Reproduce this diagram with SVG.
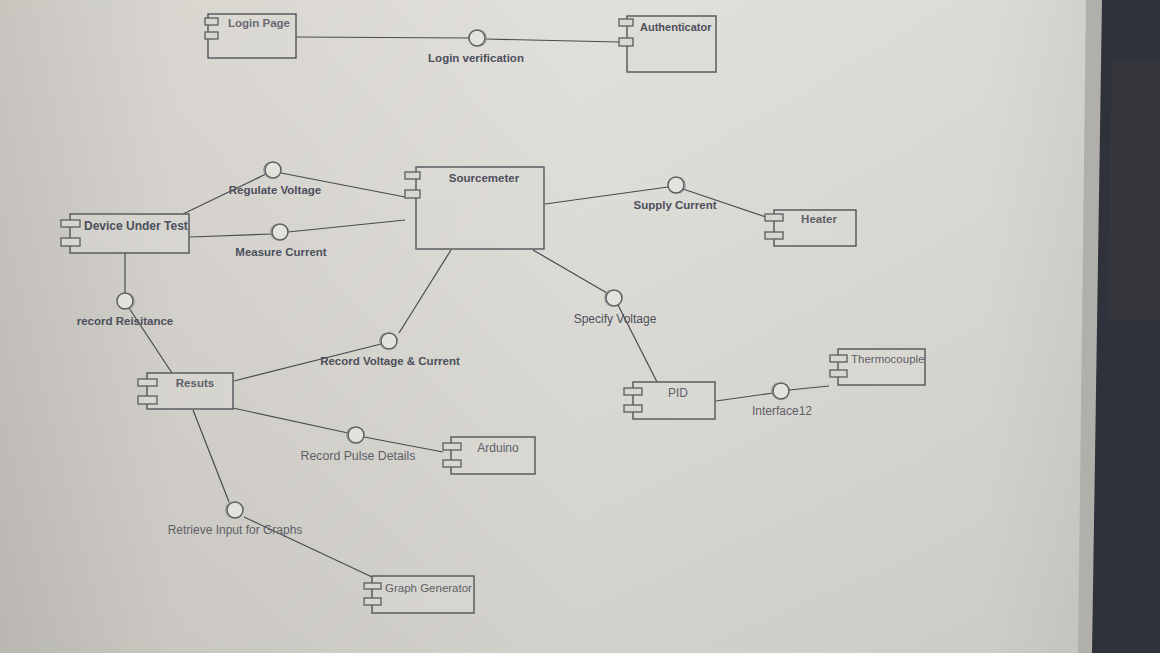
<svg xmlns="http://www.w3.org/2000/svg" width="1160" height="653" viewBox="0 0 1160 653">
<defs>
<linearGradient id="bg" x1="0" y1="0" x2="1" y2="0">
<stop offset="0" stop-color="#c4c2bb"/>
<stop offset="0.15" stop-color="#d6d4cd"/>
<stop offset="0.5" stop-color="#e0ded8"/>
<stop offset="0.85" stop-color="#dbd9d3"/>
<stop offset="1" stop-color="#c9c7c1"/>
</linearGradient>
<linearGradient id="bgv" x1="0" y1="0" x2="0" y2="1">
<stop offset="0" stop-color="#ffffff" stop-opacity="0.05"/>
<stop offset="1" stop-color="#000000" stop-opacity="0.06"/>
</linearGradient>
<style>
.box{fill:#dcdad4;fill-opacity:0.5;stroke:#5b5b60;stroke-width:1.5}
.tab{fill:#d8d6d0;stroke:#5b5b60;stroke-width:1.3}
.ln{stroke:#4a4a50;stroke-width:1.2;fill:none}
.ball{fill:#e4e2dc;stroke:#5b5b60;stroke-width:1.5}
.ball2{fill:none;stroke:#8a8a90;stroke-width:1}
.t{font-family:"Liberation Sans",Arial,sans-serif;font-size:12px;fill:#4c4f5c}
.b{font-weight:bold;font-size:11.5px}
.g{fill:#5e6068}
</style>
</defs>
<rect width="1160" height="653" fill="url(#bg)"/>
<rect width="1160" height="653" fill="url(#bgv)"/>
<polygon points="1086,0 1106,0 1094,653 1078,653" fill="#b0afaa"/>
<polygon points="1102,0 1160,0 1160,653 1092,653" fill="#2f323b"/>
<polygon points="1112,60 1160,60 1160,320 1107,320" fill="#3a3a3e" opacity="0.6"/>

<g id="connectors">
<line class="ln" x1="296" y1="37" x2="469" y2="38"/>
<line class="ln" x1="485" y1="39" x2="619" y2="42"/>
<line class="ln" x1="183" y1="214" x2="266" y2="174"/>
<line class="ln" x1="281" y1="173" x2="405" y2="197"/>
<line class="ln" x1="190" y1="237" x2="272" y2="234"/>
<line class="ln" x1="288" y1="232" x2="405" y2="220"/>
<line class="ln" x1="545" y1="204" x2="668" y2="187"/>
<line class="ln" x1="683" y1="189" x2="766" y2="217"/>
<line class="ln" x1="533" y1="250" x2="607" y2="293"/>
<line class="ln" x1="618" y1="305" x2="657" y2="382"/>
<line class="ln" x1="716" y1="401" x2="773" y2="393"/>
<line class="ln" x1="789" y1="390" x2="829" y2="386"/>
<line class="ln" x1="125" y1="253" x2="125" y2="293"/>
<line class="ln" x1="129" y1="308" x2="172" y2="373"/>
<line class="ln" x1="234" y1="381" x2="381" y2="344"/>
<line class="ln" x1="451" y1="250" x2="399" y2="333"/>
<line class="ln" x1="233" y1="408" x2="348" y2="433"/>
<line class="ln" x1="364" y1="437" x2="443" y2="452"/>
<line class="ln" x1="193" y1="410" x2="229" y2="502"/>
<line class="ln" x1="244" y1="517" x2="372" y2="577"/>
</g>

<g id="Login_Page">
<rect class="box" x="208" y="14" width="88" height="44"/>
<rect class="tab" x="205" y="18" width="13" height="7"/>
<rect class="tab" x="205" y="32" width="13" height="7"/>
<text class="t b" x="228" y="27" style="fill:#6a6a72">Login Page</text>
</g>
<g id="Authenticator">
<rect class="box" x="627" y="16" width="89" height="56"/>
<rect class="tab" x="619" y="19" width="14" height="7"/>
<rect class="tab" x="619" y="38" width="14" height="8"/>
<text class="t b" x="640" y="31" style="font-size:11px">Authenticator</text>
</g>
<g id="Login_verification">
<circle class="ball" cx="477" cy="38" r="8"/>
<path class="ball2" d="M480,30 A8.5,8.5 0 0 1 481,46"/>
<text class="t b" x="476" y="62" text-anchor="middle">Login verification</text>
</g>

<g id="Sourcemeter">
<rect class="box" x="416" y="167" width="128" height="82"/>
<rect class="tab" x="405" y="172" width="15" height="7"/>
<rect class="tab" x="405" y="190" width="15" height="8"/>
<text class="t b" x="484" y="182" text-anchor="middle">Sourcemeter</text>
</g>
<g id="Device_Under_Test">
<rect class="box" x="70" y="214" width="119" height="39"/>
<rect class="tab" x="61" y="220" width="19" height="7"/>
<rect class="tab" x="61" y="238" width="19" height="8"/>
<text class="t b" x="84" y="230" style="font-size:12px">Device Under Test</text>
</g>
<g id="Regulate_Voltage">
<circle class="ball" cx="273" cy="170" r="8"/>
<path class="ball2" d="M269,162 A8.5,8.5 0 0 0 270,178"/>
<text class="t b" x="275" y="194" text-anchor="middle">Regulate Voltage</text>
</g>
<g id="Measure_Current">
<circle class="ball" cx="280" cy="232" r="8"/>
<path class="ball2" d="M276,224 A8.5,8.5 0 0 0 277,240"/>
<text class="t b" x="281" y="256" text-anchor="middle">Measure Current</text>
</g>
<g id="Supply_Current">
<circle class="ball" cx="676" cy="185" r="8"/>
<path class="ball2" d="M679,177 A8.5,8.5 0 0 1 680,193"/>
<text class="t b" x="675" y="209" text-anchor="middle">Supply Current</text>
</g>
<g id="Heater">
<rect class="box" x="774" y="210" width="82" height="36"/>
<rect class="tab" x="765" y="214" width="18" height="7"/>
<rect class="tab" x="765" y="232" width="18" height="7"/>
<text class="t b g" x="819" y="223" text-anchor="middle">Heater</text>
</g>
<g id="Specify_Voltage">
<circle class="ball" cx="614" cy="298" r="8"/>
<path class="ball2" d="M610,290 A8.5,8.5 0 0 0 611,306"/>
<text class="t" x="615" y="323" text-anchor="middle">Specify Voltage</text>
</g>
<g id="PID">
<rect class="box" x="633" y="382" width="82" height="37"/>
<rect class="tab" x="624" y="388" width="18" height="7"/>
<rect class="tab" x="624" y="405" width="18" height="7"/>
<text class="t g" x="678" y="397" text-anchor="middle">PID</text>
</g>
<g id="Interface12">
<circle class="ball" cx="781" cy="391" r="8"/>
<path class="ball2" d="M777,383 A8.5,8.5 0 0 0 778,399"/>
<text class="t g" x="782" y="415" text-anchor="middle">Interface12</text>
</g>
<g id="Thermocouple">
<rect class="box" x="838" y="349" width="87" height="36"/>
<rect class="tab" x="830" y="355" width="17" height="7"/>
<rect class="tab" x="830" y="370" width="17" height="7"/>
<text class="t g" x="851" y="363" style="font-size:11.5px">Thermocouple</text>
</g>
<g id="record_Reisitance">
<circle class="ball" cx="125" cy="301" r="8"/>
<path class="ball2" d="M128,293 A8.5,8.5 0 0 1 129,309"/>
<text class="t b" x="125" y="325" text-anchor="middle">record Reisitance</text>
</g>
<g id="Resuts">
<rect class="box" x="147" y="373" width="86" height="36"/>
<rect class="tab" x="138" y="379" width="19" height="7"/>
<rect class="tab" x="138" y="396" width="19" height="8"/>
<text class="t b g" x="195" y="387" text-anchor="middle">Resuts</text>
</g>
<g id="Record_Voltage_Current">
<circle class="ball" cx="389" cy="341" r="8"/>
<path class="ball2" d="M385,333 A8.5,8.5 0 0 0 386,349"/>
<text class="t b" x="390" y="365" text-anchor="middle">Record Voltage &amp; Current</text>
</g>
<g id="Record_Pulse_Details">
<circle class="ball" cx="356" cy="435" r="8"/>
<path class="ball2" d="M352,427 A8.5,8.5 0 0 0 353,443"/>
<text class="t g" x="358" y="460" text-anchor="middle" style="font-size:12.3px">Record Pulse Details</text>
</g>
<g id="Arduino">
<rect class="box" x="451" y="437" width="84" height="37"/>
<rect class="tab" x="443" y="443" width="18" height="7"/>
<rect class="tab" x="443" y="460" width="18" height="7"/>
<text class="t g" x="498" y="452" text-anchor="middle">Arduino</text>
</g>
<g id="Retrieve_Input_for_Graphs">
<circle class="ball" cx="235" cy="510" r="8"/>
<path class="ball2" d="M231,502 A8.5,8.5 0 0 0 232,518"/>
<text class="t g" x="235" y="534" text-anchor="middle">Retrieve Input for Graphs</text>
</g>
<g id="Graph_Generator">
<rect class="box" x="372" y="576" width="102" height="37"/>
<rect class="tab" x="364" y="583" width="17" height="6"/>
<rect class="tab" x="364" y="598" width="17" height="7"/>
<text class="t g" x="385" y="592" style="font-size:11.5px">Graph Generator</text>
</g>
</svg>
